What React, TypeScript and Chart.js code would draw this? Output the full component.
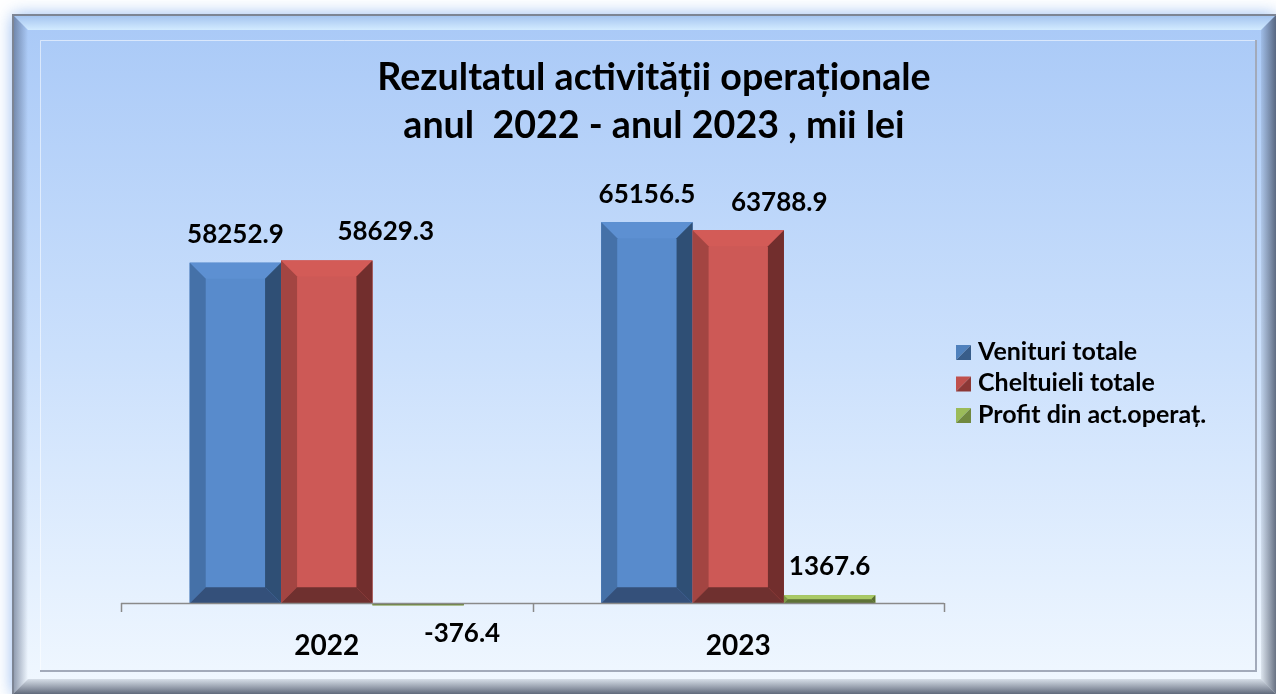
import React, { useEffect, useRef } from "react";
import { Chart, registerables } from "chart.js";

Chart.register(...registerables);

const categories = ["2022", "2023"];
const seriesNames = ["Venituri totale", "Cheltuieli totale", "Profit din act.operaț."];
const venituri = [58252.9, 65156.5];
const cheltuieli = [58629.3, 63788.9];
const profit = [-376.4, 1367.6];
const titleLines = ["Rezultatul activității operaționale", "anul  2022 - anul 2023 , mii lei"];

const FONT = "Lato, 'Open Sans', sans-serif";

type Shade = { face: string; top: string; left: string; right: string; bottom: string; light: string; dark: string };
const shades: Shade[] = [
  { face: "#588bcc", top: "#5d90d2", left: "#4571a8", right: "#2f4f75", bottom: "#34507a", light: "#4f81bd", dark: "#385d8a" },
  { face: "#cd5956", top: "#d35b57", left: "#a34542", right: "#722e2d", bottom: "#6f302f", light: "#c0504d", dark: "#8c3836" },
  { face: "#9bbb59", top: "#a9c966", left: "#7f9a49", right: "#5a6d33", bottom: "#5e7236", light: "#9bbb59", dark: "#71893f" },
];

// label offsets relative to bar top (dx, baseline dy)
const labelOffsets = [
  [[0, -20], [0, -19]],
  [[59, -20], [41, -19]],
  [[44, 39], [0, -20]],
];

const framePlugin = {
  id: "frame",
  beforeDraw(chart: any) {
    const ctx = chart.ctx as CanvasRenderingContext2D;
    const W = chart.width, H = chart.height;
    ctx.save();
    ctx.fillStyle = "#ffffff";
    ctx.fillRect(0, 0, W, H);
    const L = 13, T = 15, R = W, B = H;
    ctx.shadowColor = "rgba(110,160,235,0.8)";
    ctx.shadowBlur = 16;
    ctx.fillStyle = "#a8c8f4";
    ctx.fillRect(L, T, R - L, B - T);
    ctx.shadowBlur = 0;
    ctx.shadowColor = "transparent";
    const g = ctx.createLinearGradient(0, T, 0, B);
    g.addColorStop(0, "#a9c9f7");
    g.addColorStop(0.5, "#cbe0fc");
    g.addColorStop(1, "#f1f8ff");
    ctx.fillStyle = g;
    ctx.fillRect(L, T, R - L, B - T);
    const bw = 15;
    const gt = ctx.createLinearGradient(0, T, 0, T + bw);
    gt.addColorStop(0, "#a2c2ef");
    gt.addColorStop(1, "#d2ebff");
    ctx.fillStyle = gt;
    ctx.beginPath();
    ctx.moveTo(L, T); ctx.lineTo(R, T); ctx.lineTo(R - bw, T + bw); ctx.lineTo(L + bw, T + bw); ctx.closePath();
    ctx.fill();
    const gl = ctx.createLinearGradient(L, 0, L + bw, 0);
    gl.addColorStop(0, "rgba(60,75,105,0.55)");
    gl.addColorStop(1, "rgba(60,75,105,0.0)");
    ctx.fillStyle = gl;
    ctx.beginPath();
    ctx.moveTo(L, T); ctx.lineTo(L + bw, T + bw); ctx.lineTo(L + bw, B - bw); ctx.lineTo(L, B); ctx.closePath();
    ctx.fill();
    const gr = ctx.createLinearGradient(R - bw, 0, R, 0);
    gr.addColorStop(0, "rgba(60,70,90,0.1)");
    gr.addColorStop(1, "rgba(60,70,90,0.75)");
    ctx.fillStyle = gr;
    ctx.beginPath();
    ctx.moveTo(R, T); ctx.lineTo(R - bw, T + bw); ctx.lineTo(R - bw, B - bw); ctx.lineTo(R, B); ctx.closePath();
    ctx.fill();
    const gb = ctx.createLinearGradient(0, B - bw, 0, B);
    gb.addColorStop(0, "rgba(70,80,100,0.15)");
    gb.addColorStop(1, "rgba(60,70,90,0.8)");
    ctx.fillStyle = gb;
    ctx.beginPath();
    ctx.moveTo(L, B); ctx.lineTo(L + bw, B - bw); ctx.lineTo(R - bw, B - bw); ctx.lineTo(R, B); ctx.closePath();
    ctx.fill();
    ctx.strokeStyle = "#7d8594";
    ctx.lineWidth = 2;
    ctx.beginPath();
    ctx.moveTo(L, B); ctx.lineTo(L, T); ctx.lineTo(R, T);
    ctx.stroke();
    const iL = 40, iT = 40, iR = 1256, iB = 671;
    ctx.strokeStyle = "rgba(255,255,255,0.55)";
    ctx.lineWidth = 1;
    ctx.beginPath();
    ctx.moveTo(iL + 0.5, iB); ctx.lineTo(iL + 0.5, iT + 0.5); ctx.lineTo(iR, iT + 0.5);
    ctx.stroke();
    ctx.strokeStyle = "#a2aaba";
    ctx.lineWidth = 2;
    ctx.beginPath();
    ctx.moveTo(iL, iB); ctx.lineTo(iR, iB); ctx.lineTo(iR, iT);
    ctx.stroke();
    ctx.restore();
  },
};

const bevelPlugin = {
  id: "bevel",
  afterDatasetsDraw(chart: any) {
    const ctx = chart.ctx as CanvasRenderingContext2D;
    ctx.save();
    chart.data.datasets.forEach((ds: any, di: number) => {
      const meta = chart.getDatasetMeta(di);
      const s = shades[di];
      meta.data.forEach((el: any) => {
        const p = el.getProps(["x", "y", "base", "width"], true);
        const left = p.x - p.width / 2, right = p.x + p.width / 2;
        const top = Math.min(p.y, p.base), bottom = Math.max(p.y, p.base);
        const h = bottom - top;
        const b = Math.max(0, Math.min(16, h / 2, p.width / 2));
        const poly = (pts: number[][], c: string) => {
          ctx.fillStyle = c;
          ctx.beginPath();
          ctx.moveTo(pts[0][0], pts[0][1]);
          for (let i = 1; i < pts.length; i++) ctx.lineTo(pts[i][0], pts[i][1]);
          ctx.closePath();
          ctx.fill();
        };
        poly([[left, top], [right, top], [right, bottom], [left, bottom]], s.face);
        poly([[left, top], [right, top], [right - b, top + b], [left + b, top + b]], s.top);
        poly([[left, top], [left + b, top + b], [left + b, bottom - b], [left, bottom]], s.left);
        poly([[right, top], [right - b, top + b], [right - b, bottom - b], [right, bottom]], s.right);
        poly([[left, bottom], [left + b, bottom - b], [right - b, bottom - b], [right, bottom]], s.bottom);
      });
    });
    ctx.restore();
  },
  afterDraw(chart: any) {
    const ctx = chart.ctx as CanvasRenderingContext2D;
    const area = chart.chartArea;
    const xs = chart.scales.x;
    const ys = chart.scales.y;
    const y0 = Math.round(ys.getPixelForValue(0));
    ctx.save();
    ctx.strokeStyle = "#8a8a8a";
    ctx.lineWidth = 1.5;
    ctx.beginPath();
    ctx.moveTo(area.left, y0 + 0.5);
    ctx.lineTo(area.right, y0 + 0.5);
    const n = categories.length;
    const step = (area.right - area.left) / n;
    for (let i = 0; i <= n; i++) {
      const x = Math.round(area.left + i * step) + 0.5;
      ctx.moveTo(x, y0);
      ctx.lineTo(x, y0 + 9);
    }
    ctx.stroke();
    ctx.fillStyle = "#000";
    ctx.textAlign = "center";
    ctx.textBaseline = "alphabetic";
    ctx.font = `bold 28px ${FONT}`;
    categories.forEach((c, i) => {
      ctx.fillText(c, xs.getPixelForValue(i), y0 + 52);
    });
    ctx.font = `bold 26px ${FONT}`;
    chart.data.datasets.forEach((ds: any, di: number) => {
      const meta = chart.getDatasetMeta(di);
      meta.data.forEach((el: any, i: number) => {
        const p = el.getProps(["x", "y", "base"], true);
        const top = Math.min(p.y, p.base);
        const off = labelOffsets[di][i];
        ctx.fillText(String(ds.data[i]), p.x + off[0], top + off[1]);
      });
    });
    ctx.font = `bold 37.6px ${FONT}`;
    ctx.fillText(titleLines[0], 654, 90);
    ctx.fillText(titleLines[1], 654, 138);
    ctx.textAlign = "left";
    ctx.font = `bold 25px ${FONT}`;
    chart.data.datasets.forEach((ds: any, di: number) => {
      const s = shades[di];
      const yTop = 345 + di * 31.5;
      const x = 956, sz = 15;
      ctx.fillStyle = s.light;
      ctx.beginPath();
      ctx.moveTo(x, yTop); ctx.lineTo(x + sz, yTop); ctx.lineTo(x, yTop + sz); ctx.closePath();
      ctx.fill();
      ctx.fillStyle = s.dark;
      ctx.beginPath();
      ctx.moveTo(x + sz, yTop); ctx.lineTo(x + sz, yTop + sz); ctx.lineTo(x, yTop + sz); ctx.closePath();
      ctx.fill();
      ctx.fillStyle = "#000";
      ctx.fillText(ds.label, 978, yTop + 14.5);
    });
    ctx.restore();
  },
};

export default function App() {
  const ref = useRef<HTMLCanvasElement>(null);
  useEffect(() => {
    document.body.style.margin = "0";
    const chart = new Chart(ref.current!, {
      type: "bar",
      data: {
        labels: categories,
        datasets: [
          { label: seriesNames[0], data: venituri, backgroundColor: shades[0].face, borderWidth: 0 },
          { label: seriesNames[1], data: cheltuieli, backgroundColor: shades[1].face, borderWidth: 0 },
          { label: seriesNames[2], data: profit, backgroundColor: shades[2].face, borderWidth: 0 },
        ],
      },
      options: {
        responsive: false,
        animation: false,
        devicePixelRatio: 1,
        layout: { padding: { left: 121, right: 332, top: 194, bottom: 85 } },
        plugins: { legend: { display: false }, title: { display: false }, tooltip: { enabled: false } },
        datasets: { bar: { categoryPercentage: 0.666, barPercentage: 1 } },
        scales: {
          x: { display: false, offset: true, grid: { display: false } },
          y: { display: false, min: -1000, max: 70000 },
        },
      },
      plugins: [framePlugin, bevelPlugin],
    });
    return () => chart.destroy();
  }, []);
  return (
    <div style={{ position: "absolute", left: 0, top: 0, width: 1276, height: 694 }}>
      <canvas ref={ref} width={1276} height={694} style={{ display: "block" }} />
    </div>
  );
}
